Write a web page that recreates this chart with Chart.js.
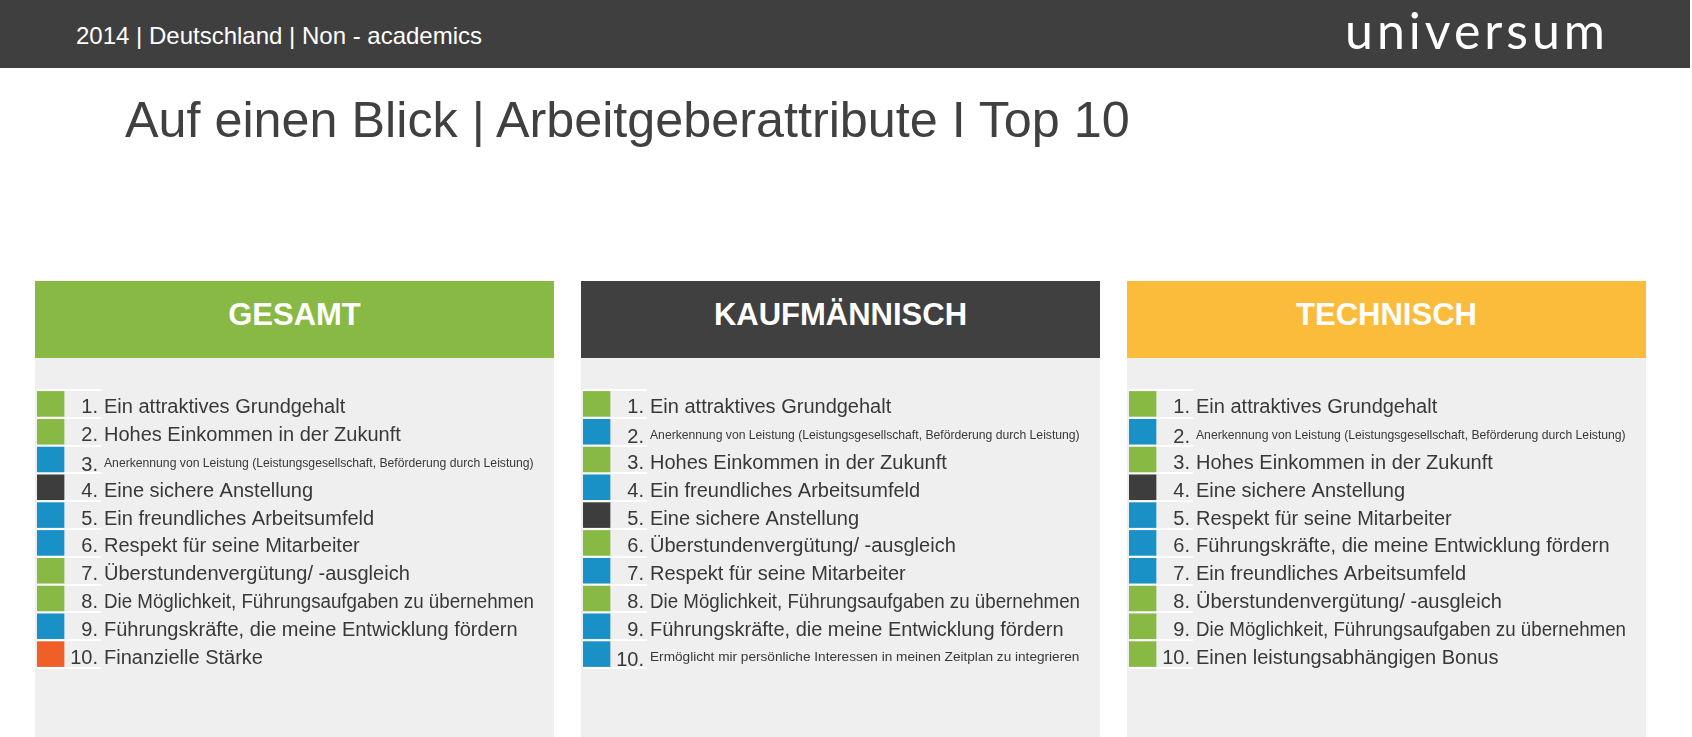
<!DOCTYPE html>
<html lang="de">
<head>
<meta charset="utf-8">
<script src="https://cdn.jsdelivr.net/npm/chart.js@4.4.1/dist/chart.umd.min.js"></script>
<style>
  html, body { margin: 0; padding: 0; }
  body { width: 1692px; height: 737px; overflow: hidden; background: #ffffff; position: relative;
         font-family: "Liberation Sans", Arial, sans-serif; }
  #topbar { position: absolute; left: 0; top: 0; width: 1690px; height: 68px; background: #3f3f3f; }
  #crumb { position: absolute; left: 76px; top: 24px; font-size: 24px; line-height: 24px; color: #ffffff; white-space: nowrap; }
  #logo { position: absolute; left: 1345px; top: 5px; font-family: "Lato", "DejaVu Sans", sans-serif; font-weight: 400;
          font-size: 50px; line-height: 50px; color: #ffffff; letter-spacing: 4px; white-space: nowrap; }
  #title { position: absolute; left: 125px; top: 95px; font-size: 50.3px; line-height: 50px; color: #404040; white-space: nowrap; }
  .panel { position: absolute; top: 281px; width: 519px; height: 456px; background: #efefef; }
  .phead { position: absolute; left: 0; top: 0; width: 519px; height: 77px; }
  .phead span { position: absolute; left: 0; width: 519px; top: 18px; text-align: center; font-weight: bold;
                font-size: 31px; line-height: 31px; color: #ffffff; }
  .panel canvas { position: absolute; left: 0; top: 77px; }
</style>
</head>
<body>
<div id="topbar">
  <div id="crumb">2014 | Deutschland | Non - academics</div>
  <div id="logo">universum</div>
</div>
<div id="title">Auf einen Blick | Arbeitgeberattribute I Top 10</div>

<div class="panel" style="left:35px"><div class="phead" style="background:#87b944"><span>GESAMT</span></div><canvas id="c1" width="519" height="379"></canvas></div>
<div class="panel" style="left:581px"><div class="phead" style="background:#404040"><span>KAUFMÄNNISCH</span></div><canvas id="c2" width="519" height="379"></canvas></div>
<div class="panel" style="left:1127px"><div class="phead" style="background:#fbbc3c"><span>TECHNISCH</span></div><canvas id="c3" width="519" height="379"></canvas></div>

<script>
// ---- data ----
const ranks = ['1.', '2.', '3.', '4.', '5.', '6.', '7.', '8.', '9.', '10.'];

const gesamtAttributes = [
  'Ein attraktives Grundgehalt',
  'Hohes Einkommen in der Zukunft',
  'Anerkennung von Leistung (Leistungsgesellschaft, Beförderung durch Leistung)',
  'Eine sichere Anstellung',
  'Ein freundliches Arbeitsumfeld',
  'Respekt für seine Mitarbeiter',
  'Überstundenvergütung/ -ausgleich',
  'Die Möglichkeit, Führungsaufgaben zu übernehmen',
  'Führungskräfte, die meine Entwicklung fördern',
  'Finanzielle Stärke'
];
const gesamtGroups = ['remuneration', 'remuneration', 'people', 'job', 'people', 'people', 'remuneration', 'remuneration', 'people', 'reputation'];

const kaufAttributes = [
  'Ein attraktives Grundgehalt',
  'Anerkennung von Leistung (Leistungsgesellschaft, Beförderung durch Leistung)',
  'Hohes Einkommen in der Zukunft',
  'Ein freundliches Arbeitsumfeld',
  'Eine sichere Anstellung',
  'Überstundenvergütung/ -ausgleich',
  'Respekt für seine Mitarbeiter',
  'Die Möglichkeit, Führungsaufgaben zu übernehmen',
  'Führungskräfte, die meine Entwicklung fördern',
  'Ermöglicht mir persönliche Interessen in meinen Zeitplan zu integrieren'
];
const kaufGroups = ['remuneration', 'people', 'remuneration', 'people', 'job', 'remuneration', 'people', 'remuneration', 'people', 'people'];

const techAttributes = [
  'Ein attraktives Grundgehalt',
  'Anerkennung von Leistung (Leistungsgesellschaft, Beförderung durch Leistung)',
  'Hohes Einkommen in der Zukunft',
  'Eine sichere Anstellung',
  'Respekt für seine Mitarbeiter',
  'Führungskräfte, die meine Entwicklung fördern',
  'Ein freundliches Arbeitsumfeld',
  'Überstundenvergütung/ -ausgleich',
  'Die Möglichkeit, Führungsaufgaben zu übernehmen',
  'Einen leistungsabhängigen Bonus'
];
const techGroups = ['remuneration', 'people', 'remuneration', 'job', 'people', 'people', 'people', 'remuneration', 'remuneration', 'remuneration'];

// every listed attribute occupies one marker cell
const presence = [1, 1, 1, 1, 1, 1, 1, 1, 1, 1];

// ---- styles ----
const groupColors = {
  remuneration: '#87b944',
  people: '#1990c6',
  job: '#3d3d3d',
  reputation: '#ef5f27'
};
const FONT = '"Liberation Sans", Arial, sans-serif';
const TEXT_COLOR = '#383838';
const LABEL_MAX_WIDTH = 430;

const rowLabelPlugin = {
  id: 'rowLabels',
  afterDatasetsDraw(chart, args, opts) {
    const ctx = chart.ctx;
    const y = chart.scales.y;
    const area = chart.chartArea;
    ctx.save();
    ctx.fillStyle = TEXT_COLOR;
    ctx.textBaseline = 'alphabetic';
    opts.items.forEach((txt, i) => {
      const yc = y.getPixelForValue(i);
      const small = txt.length > 60;
      ctx.font = '20px ' + FONT;
      ctx.textAlign = 'right';
      ctx.fillText(ranks[i], area.right - 3, yc + (small ? 11.5 : 9.5));
      ctx.textAlign = 'left';
      if (small) {
        ctx.font = '12px ' + FONT;
        const w = ctx.measureText(txt).width;
        const size = 12 * LABEL_MAX_WIDTH / w;
        ctx.font = size.toFixed(2) + 'px ' + FONT;
        ctx.fillText(txt, area.right + 3, yc + 7);
      } else {
        ctx.fillText(txt, area.right + 3, yc + 9.5, LABEL_MAX_WIDTH);
      }
    });
    ctx.restore();
  }
};

function makeChart(id, items, groups) {
  new Chart(document.getElementById(id), {
    type: 'bar',
    data: {
      labels: ranks,
      datasets: [{
        data: presence,
        backgroundColor: groups.map(g => groupColors[g]),
        borderWidth: 0,
        barPercentage: 0.92,
        categoryPercentage: 1.0
      }]
    },
    options: {
      indexAxis: 'y',
      responsive: false,
      animation: false,
      events: [],
      layout: { padding: { left: 2, right: 453, top: 32, bottom: 69 } },
      scales: {
        x: { display: false, min: 0, max: 2.34 },
        y: {
          display: true,
          afterFit(scale) { scale.width = 0; },
          ticks: { display: false },
          border: { display: false },
          grid: { color: '#ffffff', lineWidth: 2, drawTicks: false, offset: true }
        }
      },
      plugins: {
        legend: { display: false },
        tooltip: { enabled: false },
        rowLabels: { items: items }
      }
    },
    plugins: [rowLabelPlugin]
  });
}

makeChart('c1', gesamtAttributes, gesamtGroups);
makeChart('c2', kaufAttributes, kaufGroups);
makeChart('c3', techAttributes, techGroups);
</script>
</body>
</html>
